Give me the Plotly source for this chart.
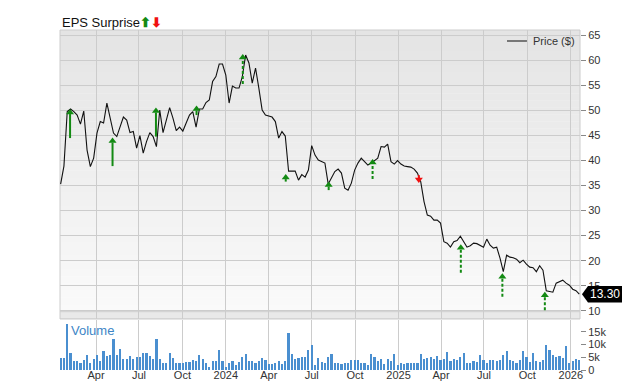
import pandas as pd
import plotly.graph_objects as go
from plotly.subplots import make_subplots

# ---------------- data ----------------
last_date = "2026-01-19"
prices = [
    35.3, 38.9, 49.8, 50.3, 49.8, 49.1, 47.3, 49.9, 42.1, 38.8,
    40.5, 45.5, 47.8, 47.5, 51.5, 48.3, 45.5, 44.8, 46.8, 48.7,
    48.1, 45.6, 45.8, 42.5, 45.0, 41.5, 43.8, 45.6, 44.8, 42.8,
    50.1, 45.6, 48.1, 50.6, 48.5, 46.0, 46.7, 45.9, 47.5, 49.1,
    49.8, 46.7, 50.3, 50.3, 51.6, 52.1, 55.8, 56.8, 59.3, 59.3,
    57.1, 51.5, 54.9, 54.5, 54.5, 56.8, 61.1, 59.5, 55.5, 58.5,
    54.5, 50.1, 49.1, 48.9, 48.7, 47.8, 44.5, 45.8, 44.9, 37.9,
    37.9, 37.9, 36.1, 37.2, 36.7, 38.1, 43.0, 41.1, 40.1, 39.8,
    39.5, 35.3, 36.5, 37.8, 38.3, 37.5, 34.5, 34.1, 35.5, 38.1,
    39.5, 40.5, 39.8, 39.1, 39.5, 40.1, 40.5, 42.8, 42.7, 43.3,
    39.8, 39.3, 40.0, 39.3, 38.9, 38.8, 38.7, 38.3, 37.5, 35.8,
    31.8, 29.1, 28.9, 28.1, 28.1, 27.5, 23.8, 23.5, 22.7, 23.8,
    24.0, 24.9, 23.8, 22.7, 23.0, 23.5, 23.4, 23.1, 22.7, 24.3,
    23.1, 22.5, 22.7, 20.5, 17.8, 21.1, 20.7, 20.6, 20.3, 19.6,
    20.1, 19.3, 18.7, 18.6, 17.8, 19.0, 18.1, 14.0, 13.8, 13.7,
    15.5, 15.8, 16.1, 15.5, 15.1, 14.3, 14.0, 13.3,
]
volumes_k = [
    4.7, 4.7, 18.0, 6.8, 3.5, 3.7, 2.9, 4.1, 5.8, 2.6,
    4.2, 6.0, 3.5, 7.6, 5.5, 5.8, 12.2, 5.8, 8.1, 4.5,
    4.5, 5.3, 4.4, 4.9, 5.0, 6.5, 6.5, 5.5, 4.5, 12.1,
    4.5, 2.8, 2.8, 6.5, 4.7, 2.8, 2.8, 2.9, 3.0, 3.2,
    4.1, 3.5, 5.8, 4.2, 2.7, 1.3, 3.7, 3.5, 7.9, 3.5,
    1.0, 2.7, 3.7, 1.9, 3.2, 4.9, 6.3, 3.6, 3.6, 2.9,
    3.5, 4.7, 4.0, 2.4, 2.2, 2.8, 3.5, 2.4, 3.5, 14.5,
    6.2, 4.4, 4.6, 4.9, 4.9, 7.9, 9.9, 1.9, 4.7, 3.2,
    2.8, 5.1, 6.4, 2.9, 2.6, 2.3, 2.6, 2.9, 3.8, 3.8,
    3.8, 2.6, 2.6, 1.9, 6.2, 4.9, 3.5, 4.5, 2.3, 4.2,
    3.6, 6.2, 1.9, 2.6, 2.3, 2.8, 2.6, 2.9, 2.9, 6.2,
    4.5, 4.7, 4.9, 4.5, 5.5, 4.1, 4.5, 7.1, 3.6, 4.5,
    4.1, 5.1, 6.8, 2.8, 2.6, 3.5, 3.2, 5.8, 4.1, 2.6,
    4.1, 3.8, 3.6, 4.1, 5.8, 7.3, 3.8, 3.6, 2.8, 3.8,
    7.3, 4.9, 3.2, 6.5, 3.6, 3.2, 3.8, 9.7, 7.9, 6.0,
    5.1, 5.3, 4.7, 9.5, 2.6, 3.5, 4.5, 4.1,
]
dates = pd.date_range(end=last_date, periods=len(prices), freq="7D")

eps_dates = ["2023-02-05", "2023-05-06", "2023-08-06", "2023-10-31",
             "2024-02-06", "2024-05-07", "2024-08-06", "2024-11-07",
             "2025-02-13", "2025-05-13", "2025-08-09", "2025-11-07"]
eps_tip = [50.3, 44.6, 50.6, 51.0, 61.3, 37.3, 35.8, 40.3, 35.5, 23.3, 17.5, 13.8]
eps_tail = [44.5, 38.9, 44.8, 49.1, 55.3, 35.8, 34.1, 36.3, 37.1, 17.6, 12.8, 10.1]
eps_beat = [True, True, True, True, True, True, True, True, False, True, True, True]
eps_dashed = [False, False, False, False, True, False, False, True, False, True, True, True]

tick_dates = ["2023-04-01", "2023-07-01", "2023-10-01", "2024-01-01",
              "2024-04-01", "2024-07-01", "2024-10-01", "2025-01-01",
              "2025-04-01", "2025-07-01", "2025-10-01", "2026-01-01"]
tick_text = ["Apr", "Jul", "Oct", "2024", "Apr", "Jul", "Oct", "2025",
             "Apr", "Jul", "Oct", "2026"]
price_ticks = [10, 15, 20, 25, 30, 35, 40, 45, 50, 55, 60, 65]
vol_ticks = [0, 5000, 10000, 15000]
vol_text = ["0", "5k", "10k", "15k"]
last_price_label = "13.30"
last_price = prices[-1]

# ---------------- style ----------------
FONT = "Arial, Liberation Sans, sans-serif"
GRID = "#cccccc"
GREEN = "#138a13"
RED = "#f01010"
PRICE_MIN, PRICE_MAX = 8.34, 66.1
PANEL_BOTTOM = 9.8

fig = make_subplots(rows=2, cols=1, shared_xaxes=True)

fig.add_trace(go.Scatter(x=dates, y=prices, mode="lines",
                         line=dict(color="#111111", width=1.1),
                         showlegend=False, hoverinfo="skip"), row=1, col=1)

for d, tip, tail, up, dashed in zip(eps_dates, eps_tip, eps_tail, eps_beat, eps_dashed):
    col = GREEN if up else RED
    if up:
        shaft = [tail, tip - 1.0]
        head_y = tip - 0.7
        sym = "triangle-up"
    else:
        shaft = [tail, tip + 1.0]
        head_y = tip + 0.7
        sym = "triangle-down"
    fig.add_trace(go.Scatter(x=[d, d], y=shaft, mode="lines",
                             line=dict(color=col, width=2,
                                       dash="3px,2px" if dashed else "solid"),
                             showlegend=False, hoverinfo="skip"), row=1, col=1)
    fig.add_trace(go.Scatter(x=[d], y=[head_y], mode="markers",
                             marker=dict(symbol=sym, size=7, color=col,
                                         line=dict(width=0)),
                             showlegend=False, hoverinfo="skip"), row=1, col=1)

fig.add_trace(go.Bar(x=dates, y=[v * 1000 for v in volumes_k],
                     marker=dict(color="#4a8fd0", line=dict(width=0)),
                     width=4.6 * 86400000, showlegend=False, hoverinfo="skip"),
              row=2, col=1)

# gradient background for price panel
shapes = []
n_bands = 40
c_top, c_bot = 228, 250
for k in range(n_bands):
    y0 = PANEL_BOTTOM + (PRICE_MAX - PANEL_BOTTOM) * k / n_bands
    y1 = PANEL_BOTTOM + (PRICE_MAX - PANEL_BOTTOM) * (k + 1) / n_bands
    c = round(c_bot + (c_top - c_bot) * (k + 0.5) / n_bands)
    shapes.append(dict(type="rect", xref="x domain", yref="y", x0=0, x1=1,
                       y0=y0, y1=y1 + 0.05, fillcolor=f"rgb({c},{c},{c})",
                       line=dict(width=0), layer="below"))
# separator band between panels
shapes.append(dict(type="rect", xref="x domain", yref="y", x0=0, x1=1,
                   y0=PRICE_MIN, y1=PANEL_BOTTOM, fillcolor="#e9e9e9",
                   line=dict(width=0), layer="below"))
shapes.append(dict(type="line", xref="x domain", yref="y", x0=0, x1=1,
                   y0=PANEL_BOTTOM, y1=PANEL_BOTTOM, line=dict(color=GRID, width=1),
                   layer="below"))
shapes.append(dict(type="line", xref="x domain", yref="y", x0=0, x1=1,
                   y0=PRICE_MIN, y1=PRICE_MIN, line=dict(color=GRID, width=1),
                   layer="below"))
# price panel border (top / left)
shapes.append(dict(type="rect", xref="x domain", yref="y domain", x0=0, x1=1,
                   y0=0, y1=1, line=dict(color=GRID, width=1), layer="below"))
# legend sample
shapes.append(dict(type="line", xref="x domain", yref="y domain",
                   x0=0.8596, x1=0.898, y0=0.962, y1=0.962,
                   line=dict(color="#777777", width=2)))
# last price tag
half = 1.65
shapes.append(dict(type="path", xref="paper", yref="y",
                   path=(f"M 1.0038,{last_price} L 1.0154,{last_price + half} "
                         f"L 1.0808,{last_price + half} L 1.0808,{last_price - half} "
                         f"L 1.0154,{last_price - half} Z"),
                   fillcolor="#000000", line=dict(width=0)))

annotations = [
    dict(text="Price ($)", xref="x domain", yref="y domain", x=0.905, y=0.962,
         xanchor="left", yanchor="middle", showarrow=False,
         font=dict(family=FONT, size=11, color="#333333")),
    dict(text="Volume", xref="x2 domain", yref="y2 domain", x=0.017, y=0.80,
         xanchor="left", yanchor="middle", showarrow=False,
         font=dict(family=FONT, size=13, color="#3d85c6")),
    dict(text=("EPS Surprise<span style='color:" + GREEN + "'><b>⬆</b></span>"
               "<span style='color:" + RED + "'><b>⬇</b></span>"),
         xref="paper", yref="paper", x=0, y=1.0206, xanchor="left",
         yanchor="middle", showarrow=False,
         font=dict(family=FONT, size=13, color="#111111")),
    dict(text=last_price_label, xref="paper", yref="y", x=1.048, y=last_price,
         xanchor="center", yanchor="middle", showarrow=False,
         font=dict(family=FONT, size=12, color="#ffffff")),
]

xr = ["2023-01-14 16:00", "2026-01-20 12:00"]
axis_x = dict(range=xr, showgrid=True, gridcolor=GRID, gridwidth=1,
              tickvals=tick_dates, ticktext=tick_text, zeroline=False,
              showline=False, ticks="", automargin=False,
              tickfont=dict(family=FONT, size=11, color="#333333"))

fig.update_layout(
    width=640, height=382, template="none",
    margin=dict(l=60, r=60, t=30, b=12),
    paper_bgcolor="white", plot_bgcolor="rgba(0,0,0,0)",
    showlegend=False, bargap=0,
    shapes=shapes, annotations=annotations,
    xaxis=dict(axis_x, showticklabels=False),
    xaxis2=dict(axis_x, showticklabels=True, ticklabelstandoff=-3),
    yaxis=dict(domain=[0.15, 1.0], range=[PRICE_MIN, PRICE_MAX], side="right",
               tickvals=price_ticks, showgrid=True, gridcolor=GRID, gridwidth=1,
               zeroline=False, ticks="outside", ticklen=5, tickcolor="#888888",
               automargin=False,
               tickfont=dict(family=FONT, size=11, color="#333333")),
    yaxis2=dict(domain=[0.0, 0.147], range=[0, 19600], side="right",
                tickvals=vol_ticks, ticktext=vol_text, showgrid=False,
                zeroline=False, ticks="outside", ticklen=5, tickcolor="#888888",
                automargin=False,
                tickfont=dict(family=FONT, size=11, color="#333333")),
)

fig.write_html("out.html")
